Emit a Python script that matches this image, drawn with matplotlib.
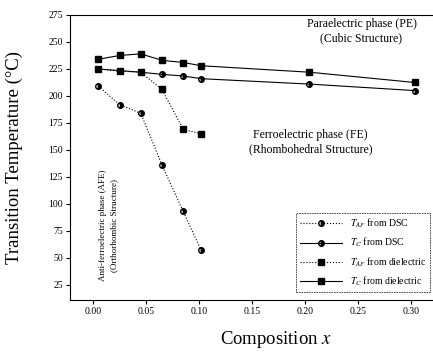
import matplotlib
matplotlib.use("Agg")
import matplotlib.pyplot as plt

# Datos
comp_all = [0.005, 0.025, 0.045, 0.065, 0.085, 0.102, 0.204, 0.303]
comp_low = [0.005, 0.025, 0.045, 0.065, 0.085, 0.102]

t_af_dsc = [209, 192, 184, 136, 93, 57]
t_c_dsc = [225, 223.5, 222, 220, 218.5, 216, 211, 205]
t_af_diel = [225, 223, 222, 206, 169, 165]
t_c_diel = [234, 237.5, 239, 233, 231, 228, 222, 212.5]

labels = [r"$T_{AF}$ from DSC", r"$T_{C}$ from DSC",
          r"$T_{AF}$ from dielectric", r"$T_{C}$ from dielectric"]

yticks = [25, 50, 75, 100, 125, 150, 175, 200, 225, 250, 275]
xticks = [0.00, 0.05, 0.10, 0.15, 0.20, 0.25, 0.30]

plt.rcParams["font.family"] = ["Liberation Serif", "DejaVu Serif"]
plt.rcParams["mathtext.fontset"] = "stix"

fig = plt.figure(figsize=(4.33, 3.55), dpi=100)
ax = fig.add_axes([70 / 433, 55 / 355, 370 / 433, 285 / 355])

kw = dict(color="black", linewidth=0.8, markersize=4)
ax.plot(comp_low, t_af_dsc, linestyle=":", marker="o", fillstyle="right",
        label=labels[0], **kw)
ax.plot(comp_all, t_c_dsc, linestyle="-", marker="o", fillstyle="right",
        label=labels[1], **kw)
ax.plot(comp_low, t_af_diel, linestyle=":", marker="s", label=labels[2], **kw)
ax.plot(comp_all, t_c_diel, linestyle="-", marker="s", label=labels[3], **kw)

ax.set_xlim(-0.0217, 0.327)
ax.set_ylim(11, 275)
ax.set_xticks(xticks)
ax.set_xticklabels(["0.00", "0.05", "0.10", "0.15", "0.20", "0.25", "0.30"])
ax.set_yticks(yticks)
ax.tick_params(direction="out", length=3, width=0.8, labelsize=7, pad=2)

ax.set_ylabel("Transition Temperature (°C)", fontsize=13.5)
ax.yaxis.set_label_coords(-0.128, 0.5)
ax.set_xlabel("Composition $x$", fontsize=13.5)
ax.xaxis.set_label_coords(0.557, -0.1)

# Regiones de fase
ax.text(0.253, 260, "Paraelectric phase (PE)\n(Cubic Structure)",
        ha="center", va="center", fontsize=8.5, linespacing=1.3)
ax.text(0.205, 157, "Ferroelectric phase (FE)\n(Rhombohedral Structure)",
        ha="center", va="center", fontsize=8.5, linespacing=1.3)
ax.text(0.0145, 80, "Anti-ferroelectric phase (AFE)\n(Orthorhombic Structure)",
        ha="center", va="center", fontsize=6.5, rotation=90, linespacing=1.5)

leg = ax.legend(loc="lower right", bbox_to_anchor=(0.973, 0.028),
                borderaxespad=0, fontsize=7, fancybox=False,
                edgecolor="black", handlelength=4.4, labelspacing=0.6)
leg.get_frame().set_linestyle((0, (2, 1)))
leg.get_frame().set_linewidth(0.6)

fig.savefig("out.png", dpi=100)
